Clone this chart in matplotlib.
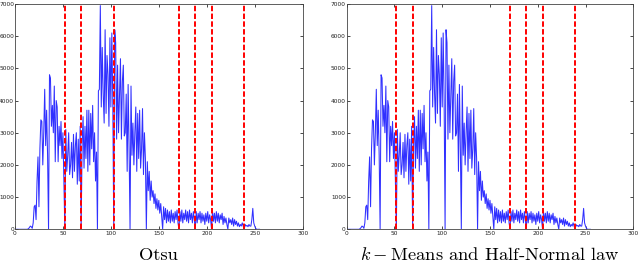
import matplotlib
matplotlib.use("Agg")
import matplotlib.pyplot as plt
import numpy as np

# histogram counts, grey levels 0..255
counts = [
    0, 0, 0, 0, 0, 0, 0, 0, 0, 0, 0, 0, 0, 0, 20, 50, 100, 80, 30, 200,
    700, 750, 300, 1500, 2250, 700, 2500, 3400, 3350, 2000, 3000, 4350, 2600, 3700, 2300, 0, 4800, 4700, 3200, 3850,
    3000, 4450, 2100, 4000, 3800, 2100, 3200, 2600, 3350, 2200, 3000, 1500, 0, 3100, 1800, 2300, 3000, 1700, 2000, 2700,
    1600, 2950, 1800, 2600, 3000, 1400, 2800, 1500, 3200, 0, 2600, 3500, 1900, 3200, 2200, 3700, 1800, 3700, 2000, 3600,
    2500, 3850, 2100, 3000, 1500, 2400, 0, 4300, 4350, 6950, 3800, 5650, 4200, 3300, 6200, 3600, 5400, 4800, 3200, 5950,
    3800, 6100, 4000, 0, 6200, 5800, 2800, 5100, 3000, 4200, 5300, 2800, 4600, 5100, 2900, 3000, 4200, 1800, 4500, 2500,
    0, 4450, 2300, 3300, 2000, 3000, 3800, 1800, 3600, 2200, 3700, 1900, 2500, 3750, 1700, 3000, 2200, 0, 2100, 1200,
    1800, 900, 1500, 1000, 1200, 800, 1100, 650, 950, 600, 900, 500, 800, 400, 0, 700, 300, 650, 200, 600,
    250, 550, 200, 600, 250, 500, 200, 550, 300, 600, 200, 0, 550, 250, 600, 200, 500, 300, 600, 250,
    550, 200, 600, 300, 500, 200, 550, 300, 0, 550, 200, 500, 300, 550, 200, 500, 250, 450, 150, 500,
    250, 550, 200, 450, 300, 0, 550, 250, 500, 200, 550, 250, 500, 200, 450, 300, 500, 150, 400, 200,
    350, 150, 0, 350, 200, 300, 150, 350, 100, 300, 150, 250, 100, 200, 80, 150, 100, 200, 100, 0,
    150, 100, 120, 80, 150, 100, 100, 300, 650, 200, 100, 30, 0, 0, 0, 0,
]
levels = np.arange(len(counts))

otsu_thr = [52, 69, 103, 171, 188, 205, 239]
kmeans_thr = [52, 69, 171, 188, 205, 239]

titles = ["Otsu", r"$k-$Means and Half-Normal law"]
thresholds = [otsu_thr, kmeans_thr]

plt.rcParams['mathtext.fontset'] = 'cm'

fig = plt.figure(figsize=(6.4, 2.62), dpi=100)
rects = [[0.0234, 0.1248, 0.4495, 0.860], [0.5417, 0.1248, 0.4478, 0.860]]

for rect, title, thr in zip(rects, titles, thresholds):
    ax = fig.add_axes(rect)
    ax.plot(levels, counts, color='#3030ff', lw=0.75)
    for t in thr:
        ax.plot([t, t], [0, 7000], color='#ff0000', lw=1.4, ls=(0, (2.8, 1.2)))
    ax.set_xlim(0, 300)
    ax.set_ylim(0, 7000)
    ax.set_xticks(range(0, 301, 50))
    ax.set_yticks(range(0, 7001, 1000))
    ax.tick_params(direction='in', top=True, right=True, labelsize=4.2,
                   length=2, width=0.5, pad=1.5, labelcolor='#222222')
    ax.tick_params(axis='y', pad=0.6)
    for s in ax.spines.values():
        s.set_linewidth(0.6)
        s.set_color('#444444')
    # caption under each panel, baseline close to the bottom edge
    fig.text(rect[0] + rect[2] / 2, 2.0 / 262, title, ha='center', va='baseline',
             fontsize=13.3, family='cmr10')

fig.savefig("out.png", dpi=100)
